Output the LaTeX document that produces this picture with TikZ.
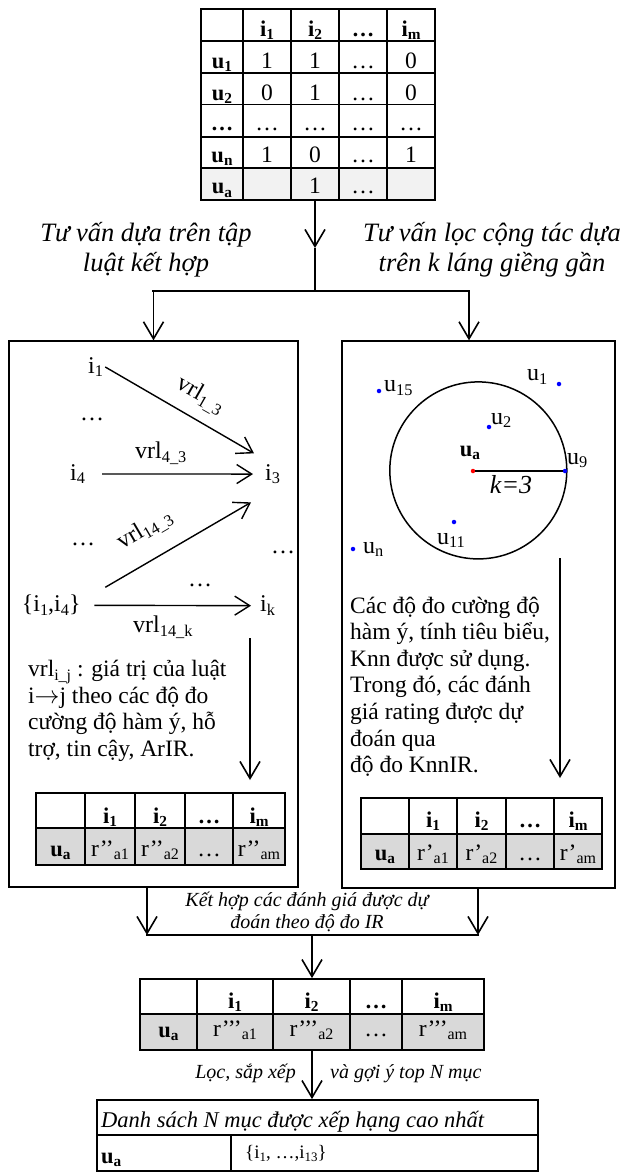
\documentclass[tikz,border=0pt]{standalone}
\usepackage{fontspec}
\setmainfont{Liberation Serif}
\usepackage{graphicx}
\usetikzlibrary{arrows.meta,calc}
\makeatletter
\newcommand\sbs[1]{\raisebox{-0.16em}{\fontsize{\strip@pt\dimexpr 0.68\dimexpr\f@size pt\relax\relax}{1}\selectfont #1}}
\makeatother
\newcommand\blockc[2]{\vtop{\baselineskip=#1\lineskiplimit=-\maxdimen\halign{\hfil##\hfil\cr#2\crcr}}}
\newcommand\blockl[2]{\vtop{\baselineskip=#1\lineskiplimit=-\maxdimen\halign{##\hfil\cr#2\crcr}}}
\definecolor{rowa}{HTML}{F2F2F2}
\definecolor{rowb}{HTML}{D9D9D9}
\begin{document}
\begin{tikzpicture}[x=1pt,y=-1pt,
  arr/.style={-{Straight Barb[length=17pt,width=20pt]}, line width=1.6pt},
  thinarr/.style={-{Straight Barb[length=15pt,width=19pt]}, line width=1.4pt},
  bar/.style={line width=2.8pt, line cap=rect},
  frame/.style={draw, line width=1.3pt, inner sep=0pt},
  tout/.style={draw, line width=1.8pt, inner sep=0pt},
  tin/.style={line width=1.3pt},
  tc/.style={anchor=base, inner sep=0pt, font=\fontsize{23.5}{26}\selectfont},
  th/.style={anchor=base, inner sep=0pt, font=\fontsize{22.5}{26}\selectfont\bfseries},
  lab/.style={anchor=base west, inner sep=0pt, font=\fontsize{24}{26}\selectfont},
  captxt/.style={anchor=base, inner sep=0pt, font=\fontsize{26.5}{30}\selectfont\itshape},
  scap/.style={anchor=base, inner sep=0pt, font=\fontsize{20}{22}\selectfont\itshape},
  para/.style={anchor=base west, inner sep=0pt, font=\fontsize{23.5}{26.8}\selectfont},
  dotb/.style={circle, fill=blue, inner sep=0pt, minimum size=4.5pt},
  dotr/.style={circle, fill=red, inner sep=0pt, minimum size=4.5pt},
]
\fill[white] (0,0) rectangle (630,1173);
\useasboundingbox (0,0) rectangle (630,1173);

% ---------- top table ----------
\fill[rowa] (201,168) rectangle (435,200);
\foreach \cx in {243,291,339,387} \draw[tin] (\cx,9) -- (\cx,200);
\foreach \cy in {41,73,104.5,137,168} \draw[tin] (201,\cy) -- (435,\cy);
\node[tout, minimum width=234pt, minimum height=191pt] (top) at (318,104.5) {};
\foreach \cx/\ct [count=\i] in {267/{i\sbs{1}},315/{i\sbs{2}},363/{…},411/{i\sbs{m}}}
  \node[th] (th\i) at (\cx,36) {\ct};
\node[th] (tu1) at (222,68) {u\sbs{1}};
\foreach \cx/\ct [count=\i] in {267/1,315/1,363/…,411/0}
  \node[tc] (ra\i) at (\cx,68) {\ct};
\node[th] (tu2) at (222,100) {u\sbs{2}};
\foreach \cx/\ct [count=\i] in {267/0,315/1,363/…,411/0}
  \node[tc] (rb\i) at (\cx,100) {\ct};
\node[th] (tu3) at (222,130.5) {…};
\foreach \cx/\ct [count=\i] in {267/…,315/…,363/…,411/…}
  \node[tc] (rc\i) at (\cx,130.5) {\ct};
\node[th] (tun) at (222,162) {u\sbs{n}};
\foreach \cx/\ct [count=\i] in {267/1,315/0,363/…,411/1}
  \node[tc] (rd\i) at (\cx,162) {\ct};
\node[th] (tua) at (222,193.5) {u\sbs{a}};
\node[tc] (re2) at (315,193.5) {1};
\node[tc] (re3) at (363,193.5) {…};

% ---------- captions and split ----------
\node[captxt] (capL) at (146,241.5) {\blockc{29.5pt}{Tư vấn dựa trên tập\cr luật kết hợp}};
\node[captxt] (capR) at (492,241.5) {\blockc{29.5pt}{Tư vấn lọc cộng tác dựa\cr trên k láng giềng gần}};
\coordinate (mA) at (315,248);
\coordinate (mB) at (315,291);
\draw[arr] (top.south -| mA) -- (mA);
\draw[line width=1.6pt] (mA) -- (mB);

% ---------- boxes ----------
\node[frame, minimum width=289pt, minimum height=546pt] (lb) at (153.5,614) {};
\node[frame, minimum width=273pt, minimum height=547pt] (rb) at (478.5,614.5) {};
\coordinate (bL) at (153.5,291);
\coordinate (bR) at (469,291);
\draw[bar] (bL) -- (bR);
\draw[arr] (bL) -- (lb.north);
\draw[arr] (bR) -- (bR |- rb.north);

% ---------- left box ----------
\node[lab] (i1) at (88,373) {i\sbs{1}};
\node[lab, anchor=base] (dt1) at (92,420.7) {…};
\node[lab] (v43) at (135,458.3) {vrl\sbs{4\_3}};
\node[lab] (i4) at (70,480) {i\sbs{4}};
\node[lab] (i3) at (265,480) {i\sbs{3}};
\node[lab, anchor=base] (dt2) at (83,545.7) {…};
\node[lab, anchor=base] (dt3) at (283,553) {…};
\node[lab, anchor=base] (dt4) at (200,586) {…};
\node[lab] (iset) at (21.7,611.7) {\{i\sbs{1},i\sbs{4}\}};
\node[lab] (ik) at (260,611.7) {i\sbs{k}};
\node[lab] (v14k) at (133,632.7) {vrl\sbs{14\_k}};
\node[lab, anchor=center, rotate=-29.7] (v13) at (200,396) {vrl\sbs{1\_3}};
\node[lab, anchor=center, rotate=30.5] (v143) at (145,530) {vrl\sbs{14\_3}};
\draw[thinarr] ([xshift=2pt]i1.east) -- ([shift={(-11,-20.7)}]i3.west);
\draw[thinarr] ([xshift=17pt]i4.east) -- ([xshift=-12pt]i3.west);
\draw[thinarr] ([shift={(24.5,-18)}]iset.east) -- ([shift={(-14,28.3)}]i3.west);
\draw[thinarr] ([xshift=13.5pt]iset.east) -- ([xshift=-9pt]ik.west);
\coordinate (la1) at (250,638);
\coordinate (la2) at (250,780);
\draw[arr] (la1) -- (la2);
\node[para] (txtL) at (28,676.7) {\blockl{26.6pt}{vrl\sbs{i\_j} : giá trị của luật\cr i$\rightarrow$j theo các độ đo\cr cường độ hàm ý, hỗ\cr trợ, tin cậy, ArIR.}};

% left inner table
\fill[rowb] (36,828) rectangle (285,865);
\foreach \cx in {85,135,185,233} \draw[tin] (\cx,793) -- (\cx,865);
\draw[tin] (36,828) -- (285,828);
\node[tout, minimum width=249pt, minimum height=72pt] (tl) at (160.5,829) {};
\foreach \cx/\ct [count=\i] in {110/{i\sbs{1}},160/{i\sbs{2}},209/{…},259/{i\sbs{m}}}
  \node[th] (lh\i) at (\cx,823) {\ct};
\node[th] (lua) at (60.5,856) {u\sbs{a}};
\foreach \cx/\ct [count=\i] in {110/{r’’\sbs{a1}},160/{r’’\sbs{a2}},209/{…},259/{r’’\sbs{am}}}
  \node[tc] (lr\i) at (\cx,856) {\ct};

% ---------- right box ----------
\node[draw, circle, line width=1.5pt, minimum size=177pt, inner sep=0pt] (circ) at (478.3,470.4) {};
\node[dotr] (ctr) at (473,471) {};
\node[dotb] (d9) at (565,471) {};
\draw[line width=2.6pt] (ctr) -- (d9);
\node[dotb] (d15) at (379,391) {};
\node[dotb] (d1) at (559,384) {};
\node[dotb] (d2) at (489,427) {};
\node[dotb] (d11) at (454,522) {};
\node[dotb] (dn) at (353,549) {};
\node[lab] (lu15) at (384,391.5) {u\sbs{15}};
\node[lab] (lu1) at (527,380.7) {u\sbs{1}};
\node[lab] (lu2) at (491,424) {u\sbs{2}};
\node[lab] (lu9) at (567,464) {u\sbs{9}};
\node[lab, anchor=base, font=\fontsize{22.5}{26}\selectfont\bfseries] (lua2) at (470,456) {u\sbs{a}};
\node[lab, anchor=base, font=\fontsize{26}{28}\selectfont\itshape] (lk) at (511,493) {k=3};
\node[lab, anchor=base] (lu11) at (451,544) {u\sbs{11}};
\node[lab] (lun) at (363,553) {u\sbs{n}};
\coordinate (ra1) at (560,558);
\coordinate (ra2) at (560,778);
\draw[arr] (ra1) -- (ra2);
\node[para] (txtR) at (350,613) {\blockl{26.6pt}{Các độ đo cường độ\cr hàm ý, tính tiêu biểu,\cr Knn được sử dụng.\cr Trong đó, các đánh\cr giá rating được dự\cr đoán qua\cr độ đo KnnIR.}};

% right inner table
\fill[rowb] (361,834) rectangle (602,869);
\foreach \cx in {409,457,506,554} \draw[tin] (\cx,798) -- (\cx,869);
\draw[tin] (361,834) -- (602,834);
\node[tout, minimum width=241pt, minimum height=71pt] (tr) at (481.5,833.5) {};
\foreach \cx/\ct [count=\i] in {433/{i\sbs{1}},481.5/{i\sbs{2}},530/{…},578/{i\sbs{m}}}
  \node[th] (rh\i) at (\cx,827) {\ct};
\node[th] (rua) at (385,860) {u\sbs{a}};
\foreach \cx/\ct [count=\i] in {433/{r’\sbs{a1}},481.5/{r’\sbs{a2}},530/{…},578/{r’\sbs{am}}}
  \node[tc] (rr\i) at (\cx,860) {\ct};

% ---------- merge ----------
\coordinate (cL) at (147,935);
\coordinate (cR) at (478,935);
\coordinate (cM) at (312,935);
\draw[arr] (cL |- lb.south) -- (cL);
\draw[arr] (cR |- rb.south) -- (cR);
\draw[bar] (cL) -- (cR);
\node[scap] (capM) at (307,906.7) {\blockc{21.7pt}{Kết hợp các đánh giá được dự\cr đoán theo độ đo IR}};

% result table
\fill[rowb] (140,1014) rectangle (484,1050);
\foreach \cx in {197,273,350,402} \draw[tin] (\cx,979) -- (\cx,1050);
\draw[tin] (140,1014) -- (484,1014);
\node[tout, minimum width=344pt, minimum height=71pt] (res) at (312,1014.5) {};
\draw[arr] (cM) -- (res.north);
\foreach \cx/\ct [count=\i] in {235/{i\sbs{1}},311.5/{i\sbs{2}},376/{…},443/{i\sbs{m}}}
  \node[th] (sh\i) at (\cx,1008) {\ct};
\node[th] (sua) at (168.5,1037) {u\sbs{a}};
\foreach \cx/\ct [count=\i] in {235/{r’’’\sbs{a1}},311.5/{r’’’\sbs{a2}},376/{…},443/{r’’’\sbs{am}}}
  \node[tc] (sr\i) at (\cx,1036) {\ct};

% ---------- final list ----------
\draw[tin] (97,1135) -- (538,1135);
\draw[tin] (231,1135) -- (231,1171);
\node[tout, minimum width=441pt, minimum height=71pt] (lst) at (317.5,1135.5) {};
\draw[arr] (res.south) -- (res.south |- lst.north);
\node[scap, anchor=base east] (capF1) at (296,1078) {Lọc, sắp xếp};
\node[scap, anchor=base west] (capF2) at (330,1078) {và gợi ý top N mục};
\node[anchor=base west, inner sep=0pt, font=\fontsize{22.5}{26}\selectfont\itshape] (lsth) at (101,1127) {Danh sách N mục được xếp hạng cao nhất};
\node[th, anchor=base west] (lsua) at (101,1163) {u\sbs{a}};
\node[anchor=base west, inner sep=0pt, font=\fontsize{19}{22}\selectfont] (lsv) at (245,1158) {\{i\sbs{1}, …,i\sbs{13}\}};
\end{tikzpicture}
\end{document}
